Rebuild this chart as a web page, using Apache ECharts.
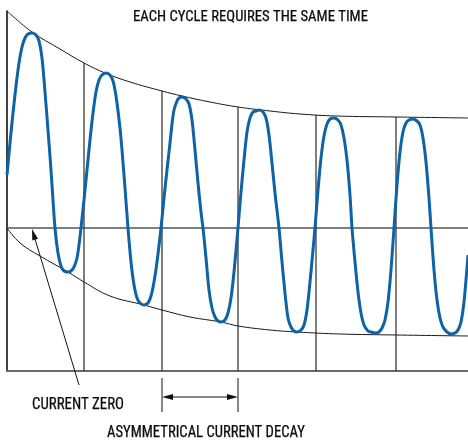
<!DOCTYPE html>
<html>
<head>
<meta charset="utf-8">
<script src="https://cdn.jsdelivr.net/npm/echarts@6/dist/echarts.min.js"></script>
<style>
html,body{margin:0;padding:0;background:#fff;}
#chart{width:468px;height:442px;}
</style>
</head>
<body>
<div id="chart"></div>
<script>
// ---- data (time in arbitrary units, current in arbitrary units; zero = current zero) ----
const waveTime = [0,3,6,9,12,15,18,21,25,29,32,35,38,41,44,46,48,51,54,57,61,
  64,67,70,72,74,77,80,83,86,89,92,95,99,103,106,108,110,113,115,118,121,124,127,130,133,137,
  141,144,147,150,154,157,160,163,165,167,170,172,175,179,182,185,188,191,194,196,199,202,205,208,211,214,
  218,221,224,227,231,234,237,240,243,246,249,252,256,259,262,265,268,272,275,278,281,284,287,290,
  294,297,300,303,306,308,311,314,317,320,323,327,331,334,337,340,343,345,348,351,354,357,361,364,368,
  372,375,378,381,384,387,390,393,396,399,402,406,410,413,416,419,422,424,427,430,433,436,440,444,
  448,451,454,457,461];
const waveCurrent = [53,85,115,142,165,181,190,194,195,193,187,170,136,98,58,28,0,-25,-38,-43,-44,
  -43,-39,-30,-17,0,28,58,88,115,136,148,153,155,153,147,138,125,100,78,40,0,-34,-57,-70,-75,-77,
  -75,-68,-54,-34,0,30,58,85,104,118,127,130,131,129,124,108,78,45,16,0,-30,-62,-80,-89,-93,-94,
  -92,-85,-70,-44,0,36,68,96,110,116,117,118,116,110,93,65,35,0,-34,-65,-90,-99,-103,-104,
  -102,-97,-82,-54,-22,0,38,70,92,104,109,110,108,103,90,68,33,0,-34,-64,-85,-97,-103,-104,-105,
  -104,-100,-92,-74,-42,0,43,76,96,105,108,109,107,103,90,66,30,0,-42,-72,-90,-99,-104,-106,
  -105,-102,-94,-74,-27];
const upperTime    = [0,25,53,77,98,123,155,175,203,231,263,293,329,389,461];
const upperCurrent = [217,196,179,165,155,146,137,132,126,121,117,114,112,111,110];
const lowerTime    = [0,13,33,61,77,103,137,155,183,214,231,263,290,333,389,461];
const lowerCurrent = [0,-15,-28,-44,-54,-68,-77,-82,-89,-94,-98,-102,-104,-106,-107,-108];
const cycleTimes = [77,155,231,309,389];
const cycleTops  = [165,137,121,113,111];
const titleText = 'EACH CYCLE REQUIRES THE SAME TIME';
const zeroText = 'CURRENT ZERO';
const decayText = 'ASYMMETRICAL CURRENT DECAY';

const T_MIN = 0, T_MAX = 461, I_MIN = -143, I_MAX = 217;

const zip = (a, b) => a.map((v, k) => [v, b[k]]);

const chart = echarts.init(document.getElementById('chart'), null, {renderer: 'canvas'});

const series = [];
cycleTimes.forEach((t, k) => {
  series.push({
    type: 'line', data: [[t, I_MIN], [t, cycleTops[k]]], symbol: 'none', silent: true, z: 1,
    lineStyle: {color: '#3a3a3a', width: 1.3}
  });
});
series.push({
  type: 'line', data: zip(upperTime, upperCurrent), smooth: 0.4, symbol: 'none', silent: true, z: 2,
  lineStyle: {color: '#1a1a1a', width: 1},
  markLine: {silent: true, symbol: 'none', label: {show: false}, z: 1,
    lineStyle: {color: '#555', width: 1.6, type: 'solid'}, data: [{yAxis: 0}]}
});
series.push({
  type: 'line', data: zip(lowerTime, lowerCurrent), smooth: 0.4, symbol: 'none', silent: true, z: 2,
  lineStyle: {color: '#1a1a1a', width: 1}
});
series.push({
  type: 'line', data: zip(waveTime, waveCurrent), smooth: 0.28, symbol: 'none', silent: true, z: 5,
  lineStyle: {color: '#0d63a5', width: 3}
});

chart.setOption({
  animation: false,
  grid: {left: 7, right: 0, top: 11, bottom: 71},
  xAxis: {type: 'value', min: T_MIN, max: T_MAX,
    axisLine: {show: true, onZero: false, lineStyle: {color: '#6a6a6a', width: 1.8}},
    axisTick: {show: false}, axisLabel: {show: false}, splitLine: {show: false}},
  yAxis: {type: 'value', min: I_MIN, max: I_MAX,
    axisLine: {show: true, onZero: false, lineStyle: {color: '#111', width: 1.6}},
    axisTick: {show: false}, axisLabel: {show: false}, splitLine: {show: false}},
  series: series
});

// ---- annotations ----
const FONT_FAMILY = '"Liberation Sans Narrow","Roboto Condensed","Liberation Sans",Arial,sans-serif';
const ctx = document.createElement('canvas').getContext('2d');
function fitText(text, size, left, right, cy) {
  const font = size + 'px ' + FONT_FAMILY;
  ctx.font = font;
  const w = ctx.measureText(text).width;
  return {type: 'text', x: left, y: cy, scaleX: (right - left) / w, silent: true, z: 10,
    style: {text: text, x: 0, y: 0, font: font, fill: '#0a0a0a', align: 'left', verticalAlign: 'middle',
      stroke: '#0a0a0a', lineWidth: 0.25}};
}
function arrowHead(tip, from, len, half) {
  const dx = from[0] - tip[0], dy = from[1] - tip[1];
  const d = Math.hypot(dx, dy), ux = dx / d, uy = dy / d;
  const bx = tip[0] + ux * len, by = tip[1] + uy * len;
  return {type: 'polygon', silent: true, z: 10,
    shape: {points: [tip, [bx - uy * half, by + ux * half], [bx + uy * half, by - ux * half]]},
    style: {fill: '#111'}};
}
const px = (t, i) => chart.convertToPixel({gridIndex: 0}, [t, i]);

const tip = px(25, -1);
const tail = px(72, -157);
const aL = px(cycleTimes[1], -169), aR = px(cycleTimes[2], -169);
const tTop = -150, tBot = -184;
const lTop = px(cycleTimes[1], tTop), lBot = px(cycleTimes[1], tBot);
const rTop = px(cycleTimes[2], tTop), rBot = px(cycleTimes[2], tBot);

chart.setOption({
  graphic: [
    fitText(titleText, 15, 133, 368, 17),
    fitText(zeroText, 16, 32, 124, 405),
    fitText(decayText, 16, 107, 305, 433),
    {type: 'line', silent: true, z: 10, shape: {x1: tail[0], y1: tail[1], x2: tip[0] + (tail[0]-tip[0])*0.05, y2: tip[1] + (tail[1]-tip[1])*0.05},
      style: {stroke: '#111', lineWidth: 1}},
    arrowHead(tip, tail, 11, 3),
    {type: 'line', silent: true, z: 10, shape: {x1: lTop[0], y1: lTop[1], x2: lBot[0], y2: lBot[1]}, style: {stroke: '#111', lineWidth: 1}},
    {type: 'line', silent: true, z: 10, shape: {x1: rTop[0], y1: rTop[1], x2: rBot[0], y2: rBot[1]}, style: {stroke: '#111', lineWidth: 1}},
    {type: 'line', silent: true, z: 10, shape: {x1: aL[0] + 5, y1: aL[1], x2: aR[0] - 5, y2: aR[1]}, style: {stroke: '#111', lineWidth: 1}},
    arrowHead(aL, aR, 11, 3),
    arrowHead(aR, aL, 11, 3)
  ]
});
</script>
</body>
</html>
